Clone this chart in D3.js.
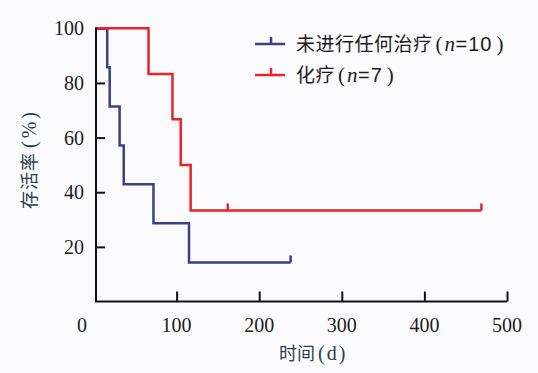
<!DOCTYPE html>
<html>
<head>
<meta charset="utf-8">
<script src="https://cdn.jsdelivr.net/npm/d3@7"></script>
<style>
  body { margin: 0; background: #fbfbfd; }
  svg { display: block; }
</style>
</head>
<body>
<svg width="538" height="373"></svg>
<script>
// Kaplan-Meier steps
const noTreatTimes = [4, 16, 19, 31, 36, 72, 115, 238];
const noTreatSurv = [100, 85.7, 71.4, 57.1, 42.9, 28.6, 14.3, 14.3];
const noTreatCensor = [238];

const chemoTimes = [4, 66, 95, 105, 117, 469];
const chemoSurv = [100, 83.3, 66.7, 50, 33.3, 33.3];
const chemoCensor = [162, 469];

const xTicks = [100, 200, 300, 400, 500];
const yTicks = [20, 40, 60, 80, 100];

const seriesNames = ["未进行任何治疗", "化疗"];
const seriesN = [10, 7];
const seriesColors = ["#3b3f86", "#e8232c"];

const svg = d3.select("svg");

const x = d3.scaleLinear().domain([0, 500]).range([94, 507]);
const y = d3.scaleLinear().domain([0, 100]).range([301.5, 28.3]);

const textColor = "#1c1c1c";
const titleColor = "#2f3d4e";
const serif = "Liberation Serif, serif";
const cjk = "Noto Sans CJK SC, sans-serif";

// axes
const xAxis = svg.append("g")
    .attr("transform", `translate(0,${y(0)})`)
    .call(d3.axisTop(x).tickValues(xTicks).tickSize(10).tickFormat(""));
xAxis.select(".domain").attr("d", `M${x(0) + 1},0H${x(500)}`);

const yAxis = svg.append("g")
    .attr("transform", `translate(${x(0) + 2},0)`)
    .call(d3.axisRight(y).tickValues(yTicks).tickSize(9).tickFormat(""));
yAxis.select(".domain").attr("d", `M0,${y(0)}V${y(100) - 1}`);

svg.selectAll(".domain, .tick line")
    .attr("stroke", "#111")
    .attr("stroke-width", 2);

// tick labels
svg.append("g").selectAll("text")
    .data(xTicks)
    .enter()
    .append("text")
    .attr("x", (d) => x(d))
    .attr("y", 332)
    .attr("text-anchor", "middle")
    .attr("font-family", serif)
    .attr("font-size", 20)
    .attr("fill", textColor)
    .text((d) => d);

svg.append("text")
    .attr("x", 82)
    .attr("y", 332)
    .attr("text-anchor", "middle")
    .attr("font-family", serif)
    .attr("font-size", 20)
    .attr("fill", textColor)
    .text("0");

svg.append("g").selectAll("text")
    .data(yTicks)
    .enter()
    .append("text")
    .attr("x", 84)
    .attr("y", (d) => y(d) + 7)
    .attr("text-anchor", "end")
    .attr("font-family", serif)
    .attr("font-size", 20)
    .attr("fill", textColor)
    .text((d) => d);

// axis titles
const xt = svg.append("text")
    .attr("x", 279)
    .attr("y", 360)
    .attr("font-family", cjk)
    .attr("font-size", 18)
    .attr("fill", titleColor);
xt.append("tspan").text("时间");
xt.append("tspan").attr("font-family", serif).attr("font-size", 20)
    .attr("dx", 3).attr("letter-spacing", 2).text("(d)");

const yt = svg.append("text")
    .attr("transform", "translate(36,209) rotate(-90)")
    .attr("font-family", cjk)
    .attr("font-size", 18)
    .attr("fill", titleColor);
yt.append("tspan").attr("letter-spacing", 1).text("存活率");
yt.append("tspan").attr("font-family", serif).attr("font-size", 20)
    .attr("dx", 4).attr("letter-spacing", 3).text("(%)");

// curves
const line = d3.line()
    .x((d) => x(d[0]))
    .y((d) => y(d[1]))
    .curve(d3.curveStepAfter);

const series = [
    { t: noTreatTimes, s: noTreatSurv, c: noTreatCensor },
    { t: chemoTimes, s: chemoSurv, c: chemoCensor }
];

series.forEach((ser, i) => {
    const pts = ser.t.map((t, j) => [t, ser.s[j]]);
    svg.append("path")
        .attr("d", line(pts))
        .attr("fill", "none")
        .attr("stroke", seriesColors[i])
        .attr("stroke-width", 2.5);

    svg.append("g").selectAll("line")
        .data(ser.c)
        .enter()
        .append("line")
        .attr("x1", (d) => x(d))
        .attr("x2", (d) => x(d))
        .attr("y1", y(ser.s[ser.s.length - 1]))
        .attr("y2", y(ser.s[ser.s.length - 1]) - 7)
        .attr("stroke", seriesColors[i])
        .attr("stroke-width", 2.5);
});

// legend
const legend = svg.append("g")
    .selectAll("g")
    .data(seriesNames)
    .enter()
    .append("g")
    .attr("transform", (d, i) => `translate(255,${44 + i * 31})`);

legend.append("line")
    .attr("x1", 0)
    .attr("x2", 30)
    .attr("stroke", (d, i) => seriesColors[i])
    .attr("stroke-width", 2.5);

legend.append("line")
    .attr("x1", 16)
    .attr("x2", 16)
    .attr("y1", 0)
    .attr("y2", -7)
    .attr("stroke", (d, i) => seriesColors[i])
    .attr("stroke-width", 2.5);

const lt = legend.append("text")
    .attr("x", 41)
    .attr("y", 7)
    .attr("font-family", cjk)
    .attr("font-size", 19)
    .attr("letter-spacing", 0.5)
    .attr("fill", textColor);

lt.append("tspan").text((d) => d);
lt.append("tspan")
    .attr("font-family", serif)
    .attr("font-size", 21)
    .attr("dx", 3)
    .attr("letter-spacing", 2)
    .text("(");
lt.append("tspan")
    .attr("font-family", serif)
    .attr("font-size", 21)
    .attr("font-style", "italic")
    .text("n");
lt.append("tspan")
    .attr("font-family", "Liberation Sans, sans-serif")
    .attr("font-size", 20)
    .attr("letter-spacing", 1)
    .text((d, i) => "=" + seriesN[i]);
lt.append("tspan")
    .attr("font-family", serif)
    .attr("font-size", 21)
    .attr("dx", 4)
    .text(")");
</script>
</body>
</html>
